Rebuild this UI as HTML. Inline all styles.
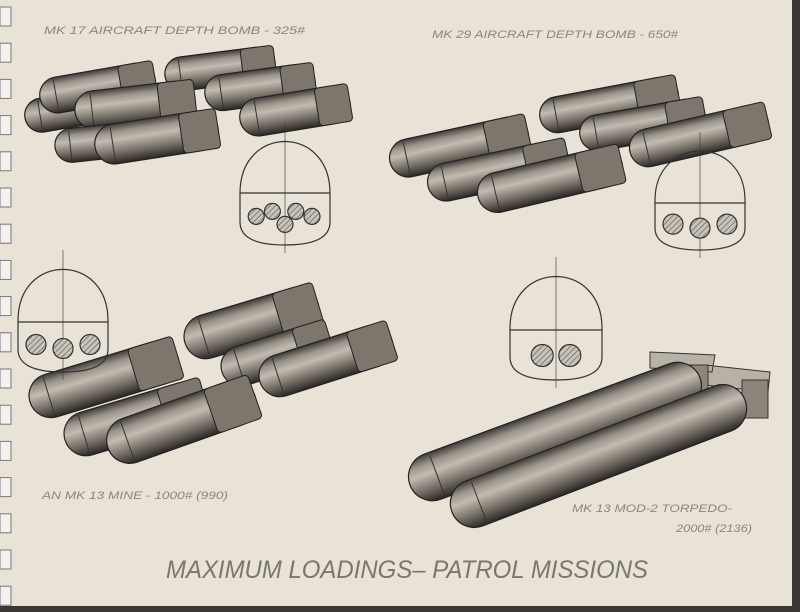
<!DOCTYPE html>
<html><head><meta charset="utf-8"><style>
html,body{margin:0;padding:0;width:800px;height:612px;overflow:hidden;background:#e8e2d7}
svg{display:block}
.lbl{font-family:"Liberation Sans",sans-serif;font-style:italic;fill:#8a8680;font-size:11px}
.title{font-family:"Liberation Sans",sans-serif;font-style:italic;fill:#7a7670;font-size:25px}
</style></head><body>
<svg id="s" width="800" height="612" viewBox="0 0 800 612" xmlns="http://www.w3.org/2000/svg">
<defs>
<linearGradient id="cyl" x1="0" y1="0" x2="0" y2="1">
<stop offset="0" stop-color="#3e3a35"/><stop offset="0.2" stop-color="#9a938a"/><stop offset="0.4" stop-color="#c2bbb0"/><stop offset="0.75" stop-color="#6e675f"/><stop offset="1" stop-color="#2a2622"/>
</linearGradient>
<pattern id="hatch" width="4" height="4" patternUnits="userSpaceOnUse" patternTransform="rotate(45)">
<rect width="4" height="4" fill="#c8c2b8"/><line x1="0" y1="0" x2="0" y2="4" stroke="#555" stroke-width="1.2"/>
</pattern>
</defs>
<rect width="800" height="612" fill="#e8e2d7"/>
<rect x="792" y="0" width="8" height="612" fill="#3a3632"/>
<rect x="0" y="606" width="800" height="6" fill="#3a3632"/>
<g id="holes"></g>
<g id="bombs"></g>
<g fill="none" stroke="#333" stroke-width="1.2" id="xs"></g>
<text class="lbl" x="44" y="34" textLength="261" lengthAdjust="spacingAndGlyphs">MK 17 AIRCRAFT  DEPTH BOMB - 325#</text>
<text class="lbl" x="432" y="38" textLength="246" lengthAdjust="spacingAndGlyphs">MK 29 AIRCRAFT DEPTH BOMB - 650#</text>
<text class="lbl" x="42" y="499" textLength="186" lengthAdjust="spacingAndGlyphs">AN MK 13 MINE - 1000# (990)</text>
<text class="lbl" x="572" y="512" textLength="160" lengthAdjust="spacingAndGlyphs">MK 13 MOD-2 TORPEDO-</text>
<text class="lbl" x="676" y="532" textLength="76" lengthAdjust="spacingAndGlyphs">2000# (2136)</text>
<text class="title" x="166" y="578" textLength="482" lengthAdjust="spacingAndGlyphs">MAXIMUM  LOADINGS– PATROL MISSIONS</text>
</svg>
<script>
var NS="http://www.w3.org/2000/svg";
function el(p,t,a){var e=document.createElementNS(NS,t);for(var k in a)e.setAttribute(k,a[k]);p.appendChild(e);return e;}
var H=document.getElementById('holes');
for(var y=7;y<600;y+=36.2){el(H,'rect',{x:0,y:y,width:11,height:19,fill:'#f4f2ee',stroke:'#777','stroke-width':1});}
var B=document.getElementById('bombs');
function bomb(x1,y1,x2,y2,t,torp){
 var dx=x2-x1,dy=y2-y1,L=Math.sqrt(dx*dx+dy*dy),a=Math.atan2(dy,dx)*180/Math.PI;
 var g=el(B,'g',{transform:'translate('+x1+','+y1+') rotate('+a+')'});
 el(g,'rect',{x:0,y:-t/2,width:L,height:t,rx:t/2,fill:'url(#cyl)',stroke:'#222','stroke-width':1.2});
 if(!torp){el(g,'rect',{x:L*0.7,y:-t/2,width:L*0.3,height:t,rx:4,fill:'#7d766c',stroke:'#222','stroke-width':1});
 el(g,'line',{x1:t*0.45,y1:-t/2+2,x2:t*0.45,y2:t/2-2,stroke:'#333','stroke-width':1});}
 else{el(g,'line',{x1:t*0.6,y1:-t/2+3,x2:t*0.6,y2:t/2-3,stroke:'#333','stroke-width':1});}
}
var list=[
[25,118,130,100,34],[40,98,155,78,36],[165,76,275,62,34],[205,95,315,80,36],[75,112,195,98,38],
[55,147,140,138,34],[240,120,350,102,38],[95,147,218,128,40],
[540,118,678,92,36],[580,136,705,114,36],[630,152,768,120,38],[390,162,528,132,38],[428,186,568,156,38],[478,197,622,163,40],
[185,343,318,303,44],[222,372,330,338,40],[260,382,392,340,42],[30,402,178,357,44],[65,440,205,398,44],[108,448,255,396,46]
];
list.forEach(function(b){bomb(b[0],b[1],b[2],b[3],b[4]);});
el(B,'path',{d:'M650 352 L715 355 L712 372 L650 368 Z M705 365 L770 372 L768 392 L705 385 Z',fill:'#b8b1a6',stroke:'#333'});
el(B,'rect',{x:742,y:380,width:26,height:38,fill:'#8c857b',stroke:'#333'});
el(B,'rect',{x:688,y:365,width:20,height:32,fill:'#8c857b',stroke:'#333'});
bomb(410,485,700,378,48,1);bomb(452,512,745,400,48,1);
var X=document.getElementById('xs');
function xs(x,y,w,h,ly,type){
 el(X,'path',{d:'M'+x+' '+(y+h*0.55)+' C'+x+' '+(y-h*0.05)+' '+(x+w)+' '+(y-h*0.05)+' '+(x+w)+' '+(y+h*0.55)+' L'+(x+w)+' '+(y+h*0.8)+' Q'+(x+w)+' '+(y+h)+' '+(x+w/2)+' '+(y+h)+' Q'+x+' '+(y+h)+' '+x+' '+(y+h*0.8)+' Z'});
 el(X,'line',{x1:x+w/2,y1:y-8,x2:x+w/2,y2:y+h+8,'stroke-width':0.6});
 el(X,'line',{x1:x,y1:ly,x2:x+w,y2:ly});
 var cy=ly+(y+h-ly)*0.45,r=type==2?11:8;
 var cs=type==5?[[x+w*0.18,cy],[x+w*0.36,cy-5],[x+w*0.5,cy+8],[x+w*0.62,cy-5],[x+w*0.8,cy]]:type==3?[[x+w*0.2,cy],[x+w*0.5,cy+4],[x+w*0.8,cy]]:[[x+w*0.35,cy+3],[x+w*0.65,cy+3]];
 if(type==3){r=10;}
 cs.forEach(function(c){el(X,'circle',{cx:c[0],cy:c[1],r:r,fill:'url(#hatch)'});});
}
xs(240,130,90,115,193,5);xs(655,140,90,110,203,3);xs(18,258,90,114,322,3);xs(510,265,92,115,330,2);
</script>
</body></html>
